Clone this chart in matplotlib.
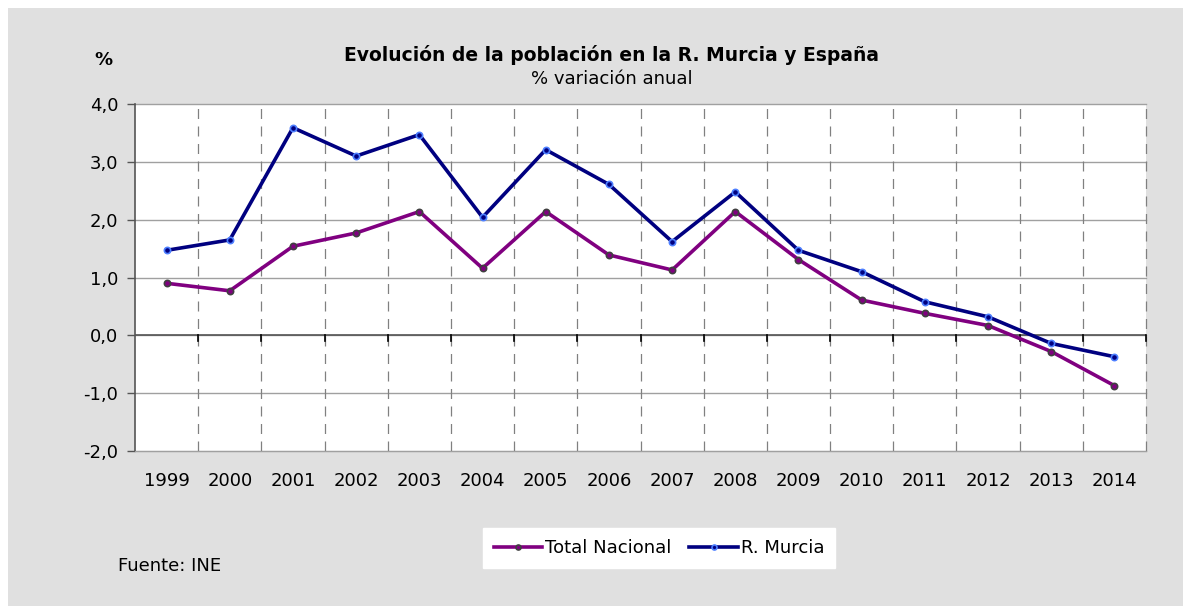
import matplotlib
matplotlib.use("Agg")
import matplotlib.pyplot as plt
import matplotlib.patches as patches

# Datos
years = ["1999", "2000", "2001", "2002", "2003", "2004", "2005", "2006",
         "2007", "2008", "2009", "2010", "2011", "2012", "2013", "2014"]
total_nacional = [0.90, 0.77, 1.54, 1.77, 2.14, 1.16, 2.14, 1.39,
                  1.13, 2.14, 1.31, 0.61, 0.38, 0.17, -0.28, -0.87]
murcia = [1.47, 1.65, 3.59, 3.10, 3.47, 2.04, 3.21, 2.61,
          1.62, 2.48, 1.47, 1.10, 0.58, 0.32, -0.14, -0.37]
y_ticks = [-2.0, -1.0, 0.0, 1.0, 2.0, 3.0, 4.0]

W, H = 1192, 612
fig = plt.figure(figsize=(W / 100, H / 100), dpi=100)
fig.patch.set_facecolor("white")

# Fondo gris del gráfico
bg = patches.Rectangle((8 / W, 1 - 606 / H), 1175 / W, 598 / H,
                       transform=fig.transFigure, facecolor="#e0e0e0",
                       edgecolor="none", zorder=-10)
fig.add_artist(bg)

left, right, top, bottom = 135, 1146, 104, 451
ax = fig.add_axes([left / W, 1 - bottom / H, (right - left) / W, (bottom - top) / H])
ax.set_facecolor("white")

x = list(range(len(years)))
ax.set_xlim(-0.5, len(years) - 0.5)
ax.set_ylim(-2, 4)

# Rejilla horizontal
for v in y_ticks:
    ax.axhline(v, color="#a0a0a0", linewidth=1.0, zorder=1, clip_on=False)
# Rejilla vertical discontinua entre categorías
for i in range(1, len(years) + 1):
    ax.axvline(i - 0.5, color="#808080", linewidth=0.9, dashes=(8, 6),
               zorder=1, clip_on=False)
# Eje de categorías en 0
ax.axhline(0, color="#555555", linewidth=1.2, zorder=2)
for i in range(1, len(years) + 1):
    ax.plot([i - 0.5, i - 0.5], [0, -0.09], color="black", linewidth=1.2,
            zorder=2, clip_on=False)

ax.plot(x, total_nacional, color="#800080", linewidth=2.6, marker="o",
        markersize=4.5, markerfacecolor="#800080", markeredgecolor="#404040",
        markeredgewidth=1.2, label="Total Nacional", zorder=3)
ax.plot(x, murcia, color="#000080", linewidth=2.6, marker="o",
        markersize=4.5, markerfacecolor="#000080", markeredgecolor="#4d7fff",
        markeredgewidth=1.2, label="R. Murcia", zorder=3)

for s in ["top", "right"]:
    ax.spines[s].set_visible(False)
ax.spines["bottom"].set_color("#a0a0a0")
ax.spines["left"].set_color("#555555")
ax.spines["left"].set_linewidth(1.2)

ax.set_yticks(y_ticks)
ax.set_yticklabels([f"{v:.1f}".replace(".", ",") for v in y_ticks], fontsize=13)
ax.tick_params(axis="y", length=6, width=1, color="#555555", pad=6)
ax.set_xticks(x)
ax.set_xticklabels(years, fontsize=13)
ax.tick_params(axis="x", length=0, pad=15)

fig.text(612 / W, 1 - 55 / H, "Evolución de la población en la R. Murcia y España",
         ha="center", va="center", fontsize=13.5, fontweight="bold")
fig.text(612 / W, 1 - 79 / H, "% variación anual", ha="center", va="center", fontsize=13)
fig.text(103 / W, 1 - 60 / H, "%", ha="center", va="center", fontsize=13, fontweight="bold")
fig.text(118 / W, 1 - 566 / H, "Fuente: INE", ha="left", va="center", fontsize=13)

leg = fig.legend(loc="center", bbox_to_anchor=(659 / W, 1 - 548 / H), ncol=2,
                 fontsize=13, frameon=True, fancybox=False, handlelength=2.7,
                 handletextpad=0.15, columnspacing=1.0, borderpad=0.6,
                 borderaxespad=0, framealpha=1, markerscale=0.8)
leg.get_frame().set_edgecolor("white")
leg.get_frame().set_facecolor("white")

fig.savefig("out.png", dpi=100)
